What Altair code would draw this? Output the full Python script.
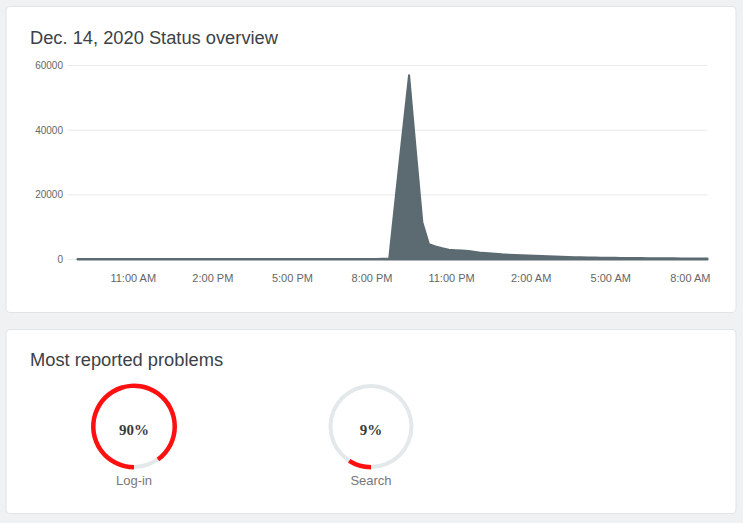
import altair as alt
import pandas as pd

# ---------------- data ----------------
title_main = "Dec. 14, 2020 Status overview"
title_problems = "Most reported problems"

start_time = "2020-12-14 08:55"
step = "15min"
reports = [
    150, 140, 160, 130, 150, 170, 140, 150, 160, 150,
    140, 130, 150, 160, 170, 150, 140, 150, 160, 150,
    140, 150, 130, 150, 160, 150, 140, 150, 160, 170,
    150, 140, 150, 160, 150, 140, 150, 160, 150, 140,
    150, 160, 150, 170, 160, 180, 200,
    250, 19500, 38500, 57000, 34000, 11500, 4700, 4000, 3500, 3050,
    2900, 2750, 2600, 2350, 2050, 1900, 1750, 1600, 1500, 1400,
    1340, 1260, 1180, 1100, 1000, 900, 830, 760, 710, 660,
    620, 590, 560, 530, 510, 490, 470, 450, 430, 410,
    395, 380, 365, 350, 340, 330, 320, 310, 300,
]

y_ticks = [0, 20000, 40000, 60000]
# (day of December, hour) of x-axis ticks
x_tick_days = [14, 14, 14, 14, 14, 15, 15, 15]
x_tick_hours = [11, 14, 17, 20, 23, 2, 5, 8]

problems = ["Log-in", "Search"]
percents = [90, 9]

# ---------------- styles ----------------
BG = "#f0f1f3"
CARD_STROKE = "#e1e3e6"
AREA = "#5c6b72"
GRID = "#e8e9eb"
TITLE_COLOR = "#3c4146"
LABEL_COLOR = "#666666"
RED = "#ff1010"
RING = "#e3e9eb"

W = 630          # shared plot width (both panels share the same origin)
LEFT, RIGHT = -71.5, 658.5   # card edges relative to the plot origin

# ---------------- chart 1 ----------------
times = pd.date_range(start_time, periods=len(reports), freq=step)
df = pd.DataFrame({"time": times, "reports": reports})
grid_df = pd.DataFrame({"reports": y_ticks})
one = pd.DataFrame({"t": [title_main]})

x_values = [alt.DateTime(year=2020, month=12, date=d, hours=h)
            for d, h in zip(x_tick_days, x_tick_hours)]

y_axis = alt.Axis(values=y_ticks, format="d", grid=False, domain=False,
                  ticks=False, labelPadding=15, labelFontSize=10,
                  labelColor=LABEL_COLOR, labelFont="Liberation Sans",
                  title=None, zindex=1)
y_scale = alt.Scale(domain=[0, 60000], nice=False)

H1 = 194

card1 = alt.Chart(one).mark_rect(fill="white", stroke=CARD_STROKE, strokeWidth=1,
                                 cornerRadius=4).encode(
    x=alt.value(LEFT), x2=alt.value(RIGHT), y=alt.value(-59), y2=alt.value(247))

grid = alt.Chart(grid_df).mark_rule(color=GRID, strokeWidth=1).encode(
    y=alt.Y("reports:Q", scale=y_scale, axis=y_axis),
    x=alt.value(-10), x2=alt.value(W))

area = alt.Chart(df).mark_area(color=AREA, stroke=AREA, strokeWidth=2,
                               strokeJoin="round").encode(
    x=alt.X("time:T",
            axis=alt.Axis(values=x_values, format="%-I:%M %p", grid=False,
                          domain=False, ticks=False, labelPadding=13,
                          labelFontSize=11, labelColor=LABEL_COLOR,
                          labelFont="Liberation Sans", title=None, zindex=1)),
    y=alt.Y("reports:Q", scale=y_scale, axis=y_axis))

title1 = alt.Chart(one).mark_text(align="left", baseline="alphabetic", fontSize=18.3,
                                  font="Liberation Sans", color=TITLE_COLOR).encode(
    text="t:N", x=alt.value(-47.5), y=alt.value(-21.7))

chart1 = alt.layer(card1, grid, area, title1).properties(width=W, height=H1)

# ---------------- chart 2 ----------------
H2 = 184
pdf = pd.DataFrame({"problem": problems, "pct": percents})
one2 = pd.DataFrame({"t": [title_problems]})

xs = alt.Scale(type="point", domain=problems, range=[56.5, 293.5], padding=0)
xenc = alt.X("problem:N", scale=xs, axis=None)

card2 = alt.Chart(one2).mark_rect(fill="white", stroke=CARD_STROKE, strokeWidth=1,
                                  cornerRadius=4).encode(
    x=alt.value(LEFT), x2=alt.value(RIGHT), y=alt.value(0), y2=alt.value(H2))

title2 = alt.Chart(one2).mark_text(align="left", baseline="alphabetic", fontSize=18.3,
                                   font="Liberation Sans", color=TITLE_COLOR).encode(
    text="t:N", x=alt.value(-47.5), y=alt.value(36.9))

ring = alt.Chart(pdf).transform_calculate(t0="0", t1="2*PI").mark_arc(
    innerRadius=38.5, outerRadius=42.5, color=RING).encode(
    x=xenc, y=alt.value(97),
    theta=alt.Theta("t0:Q", scale=None), theta2="t1:Q")

red = alt.Chart(pdf).transform_calculate(
    t0="PI", t1="PI + 2*PI*datum.pct/100").mark_arc(
    innerRadius=38.5, outerRadius=43, color=RED).encode(
    x=xenc, y=alt.value(97),
    theta=alt.Theta("t0:Q", scale=None), theta2="t1:Q")

pct_text = alt.Chart(pdf).transform_calculate(lbl="datum.pct + '%'").mark_text(
    font="Liberation Serif", fontWeight="bold", fontSize=15, color="#3a3a3a",
    baseline="alphabetic").encode(x=xenc, y=alt.value(105), text="lbl:N")

name_text = alt.Chart(pdf).mark_text(
    font="Liberation Sans", fontSize=13, color="#777777",
    baseline="alphabetic").encode(x=xenc, y=alt.value(155), text="problem:N")

chart2 = alt.layer(card2, title2, ring, red, pct_text, name_text).properties(
    width=W, height=H2)

chart = alt.vconcat(chart1, chart2, spacing=15).properties(
    background=BG,
    padding={"left": 5.5, "top": 5.5, "right": 6.5, "bottom": 8.5},
).configure_view(strokeWidth=0)

chart.save("out.html", embed_options={"renderer": "svg", "actions": False})
